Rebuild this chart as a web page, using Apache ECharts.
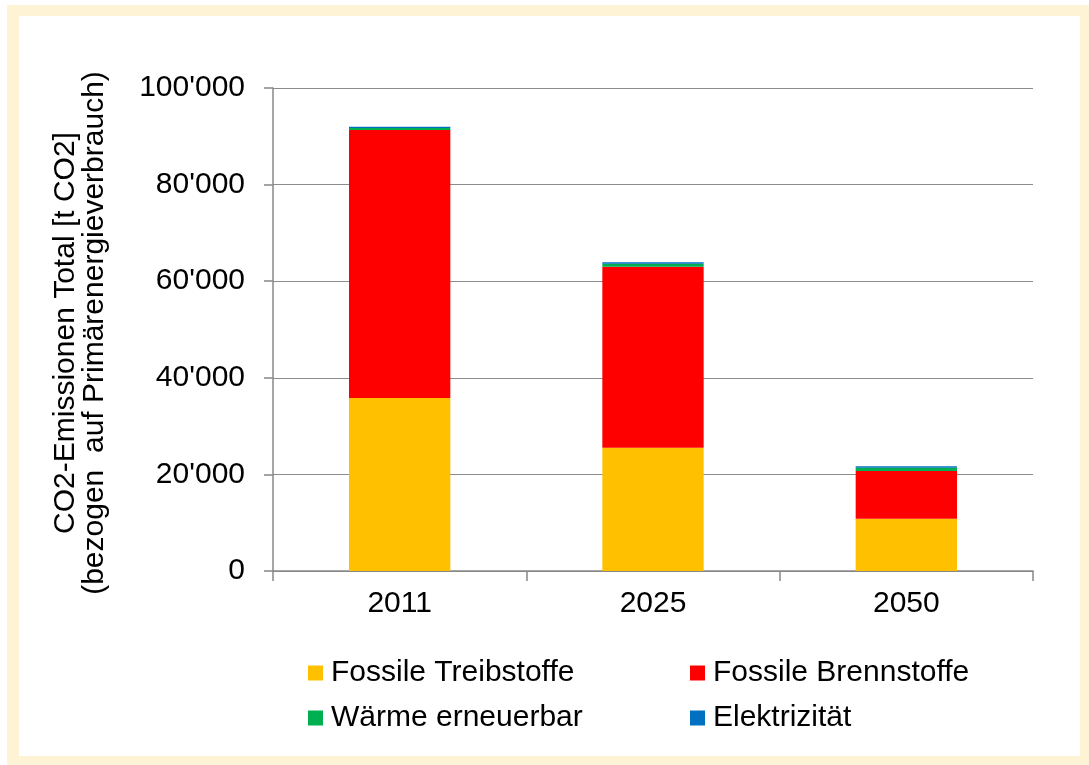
<!DOCTYPE html>
<html>
<head>
<meta charset="utf-8">
<script src="https://cdn.jsdelivr.net/npm/echarts@6/dist/echarts.min.js"></script>
<style>html,body{margin:0;padding:0;background:#fff;}#c{width:1089px;height:765px;}</style>
</head>
<body>
<div id="c"></div>
<script>
const categories = ['2011', '2025', '2050'];
const seriesNames = ['Fossile Treibstoffe', 'Fossile Brennstoffe', 'Wärme erneuerbar', 'Elektrizität'];
const fossileTreibstoffe = [35800, 25500, 10800];
const fossileBrennstoffe = [55500, 37500, 9900];
const waermeErneuerbar = [400, 600, 700];
const elektrizitaet = [300, 300, 300];
const colors = ['#FFC000', '#FF0000', '#00B050', '#0070C0'];
const axisTitle = 'CO2-Emissionen Total [t CO2]\n(bezogen  auf Primärenergieverbrauch)';

const FONT = '"Liberation Sans", Arial, sans-serif';
const chart = echarts.init(document.getElementById('c'));
const values = [fossileTreibstoffe, fossileBrennstoffe, waermeErneuerbar, elektrizitaet];

function fmt(v) {
  return String(v).replace(/\B(?=(\d{3})+(?!\d))/g, "'");
}

const legendPos = [[308, 658], [690, 658], [308, 703], [690, 703]];

chart.setOption({
  backgroundColor: '#fff',
  animation: false,
  textStyle: { fontFamily: FONT },
  graphic: [
    { type: 'rect', z: -10, shape: { x: 7, y: 5, width: 1082, height: 760 }, style: { fill: '#FFF3D6' } },
    { type: 'rect', z: -9, shape: { x: 19, y: 16, width: 1061, height: 740 }, style: { fill: '#FFFFFF' } },
    { type: 'text', z: 5, x: 80, y: 333, rotation: Math.PI / 2,
      style: { text: axisTitle, font: '30px ' + FONT, fill: '#000', align: 'center', verticalAlign: 'middle', lineHeight: 29 } }
  ],
  grid: { left: 273, right: 56, top: 88, bottom: 194, containLabel: false },
  legend: seriesNames.map((n, i) => ({
    data: [n], left: legendPos[i][0], top: legendPos[i][1], itemWidth: 15, itemHeight: 15,
    icon: 'rect', padding: 0,
    textStyle: { fontSize: 30, color: '#000', fontFamily: FONT, padding: [0, 0, 0, 3] }
  })),
  xAxis: {
    type: 'category', data: categories,
    axisLine: { lineStyle: { color: '#888', width: 1.5 } },
    axisTick: { show: true, length: 10, lineStyle: { color: '#888', width: 1.5 } },
    axisLabel: { fontSize: 30, color: '#000', margin: 18, fontFamily: FONT }
  },
  yAxis: {
    type: 'value', min: 0, max: 100000, interval: 20000,
    axisLine: { show: true, lineStyle: { color: '#888', width: 1.5 } },
    axisTick: { show: true, length: 9, lineStyle: { color: '#888', width: 1.5 } },
    splitLine: { lineStyle: { color: '#8c8c8c', width: 1 } },
    axisLabel: { fontSize: 30, color: '#000', margin: 28, formatter: fmt, fontFamily: FONT }
  },
  series: seriesNames.map((n, i) => ({
    name: n, type: 'bar', stack: 'total', data: values[i], barWidth: '40%',
    itemStyle: { color: colors[i] }
  }))
});
</script>
</body>
</html>
